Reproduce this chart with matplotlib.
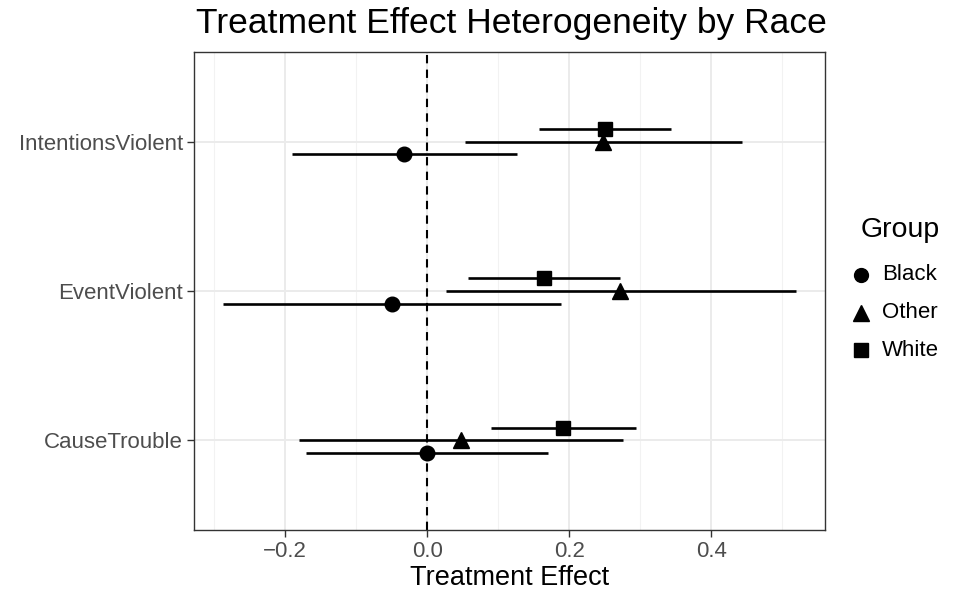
import matplotlib
matplotlib.use("Agg")
import matplotlib.pyplot as plt
from matplotlib.lines import Line2D
import numpy as np

plt.rcParams['font.family'] = ['Liberation Sans', 'DejaVu Sans']

categories = ["CauseTrouble", "EventViolent", "IntentionsViolent"]
groups = ["Black", "Other", "White"]

est = {
    "Black": [0.000, -0.050, -0.033],
    "Other": [0.048, 0.272, 0.248],
    "White": [0.191, 0.165, 0.250],
}
lo = {
    "Black": [-0.170, -0.288, -0.191],
    "Other": [-0.181, 0.026, 0.053],
    "White": [0.090, 0.057, 0.158],
}
hi = {
    "Black": [0.170, 0.188, 0.126],
    "Other": [0.276, 0.520, 0.443],
    "White": [0.294, 0.271, 0.344],
}
xticks = [-0.2, 0.0, 0.2, 0.4]
xtick_labels = ["\u22120.2", "0.0", "0.2", "0.4"]

markers = {"Black": "o", "Other": "^", "White": "s"}
msizes = {"Black": 10.5, "Other": 11.5, "White": 10}
offsets = {"Black": -0.085, "Other": 0.0, "White": 0.085}

W, H = 974, 595
fig = plt.figure(figsize=(W / 100, H / 100), dpi=100)
ax = fig.add_axes([194 / W, 1 - 530 / H, (825 - 194) / W, (530 - 52) / H])

ypos = np.arange(1, len(categories) + 1)

# grid
for x in [-0.3, -0.1, 0.1, 0.3, 0.5]:
    ax.axvline(x, color="#F2F2F2", lw=0.8, zorder=0)
for x in xticks:
    ax.axvline(x, color="#EBEBEB", lw=1.4, zorder=0)
for y in ypos:
    ax.axhline(y, color="#EBEBEB", lw=1.4, zorder=0)

ax.axvline(0, color="black", lw=1.5, ls=(0, (4, 3)), zorder=1)

for g in groups:
    yy = ypos + offsets[g]
    ax.hlines(yy, lo[g], hi[g], color="black", lw=1.9, zorder=2)
    ax.plot(est[g], yy, ls="none", marker=markers[g], ms=msizes[g],
            color="black", zorder=3)

ax.set_xlim(-0.3284, 0.5604)
ax.set_ylim(0.4, 3.6)
ax.set_yticks(ypos)
ax.set_yticklabels(categories)
ax.set_xticks(xticks)
ax.set_xticklabels(xtick_labels)
ax.tick_params(axis="both", colors="#333333", labelcolor="#4D4D4D",
               labelsize=16, length=5, width=1, pad=3)
for s in ax.spines.values():
    s.set_color("#333333")
    s.set_linewidth(1)

fig.text(510 / W, 1 - 578 / H, "Treatment Effect", fontsize=19.5,
         ha="center", va="center")
fig.text(511 / W, 1 - 23 / H, "Treatment Effect Heterogeneity by Race",
         fontsize=25.5, ha="center", va="center")

# legend
fig.text(861 / W, 1 - 230 / H, "Group", fontsize=20.5, ha="left", va="center")
leg_y = [275, 313, 350]
for g, yy in zip(groups, leg_y):
    fig.add_artist(Line2D([861 / W], [1 - yy / H], ls="none",
                          marker=markers[g], ms=msizes[g] * 0.95,
                          color="black", transform=fig.transFigure))
    fig.text(882 / W, 1 - yy / H, g, fontsize=16, ha="left", va="center")

fig.savefig("out.png", dpi=100)
